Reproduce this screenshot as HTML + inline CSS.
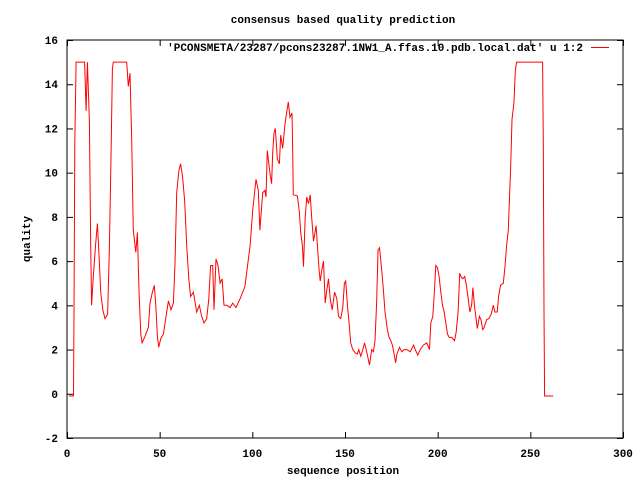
<!DOCTYPE html>
<html><head><meta charset="utf-8"><style>
body{margin:0;background:#fff}
svg text{font-family:"Liberation Mono",monospace;font-size:11px;font-weight:bold;fill:#000}
</style></head><body>
<svg id="chart" width="640" height="480" xmlns="http://www.w3.org/2000/svg">
<rect width="640" height="480" fill="#fff"/>
<text x="343" y="23" text-anchor="middle">consensus based quality prediction</text>
<text x="343" y="474" text-anchor="middle">sequence position</text>
<text x="30" y="239" text-anchor="middle" transform="rotate(-90 30 239)">quality</text>
<rect x="67" y="40" width="556" height="398" fill="none" stroke="#000" stroke-width="1"/>
<g id="axes"></g>
<polyline id="series" fill="none" stroke="#f00" stroke-width="1"/>
<text x="583" y="51" text-anchor="end">'PCONSMETA/23287/pcons23287.1NW1_A.ffas.10.pdb.local.dat' u 1:2</text>
<line x1="591" y1="47.5" x2="609" y2="47.5" stroke="#f00"/>
</svg>
<script>
const xTicks=[0,50,100,150,200,250,300];
const yTicks=[-2,0,2,4,6,8,10,12,14,16];
const positions=[1,3.5,3.8,4.2,4.9,9.5,10.3,11,12.1,12.8,13.3,14.2,15.5,16.4,17.3,18.2,19.3,20.5,21.9,22.8,23.7,24.5,25,32.2,33.1,34,34.9,35.8,37.1,38,38.9,39.8,40.5,42.1,43.9,44.8,46.1,47.1,47.9,48.8,49.5,50.6,52,53.4,54.7,56.1,57.4,58.3,59.2,60.4,61.3,62.4,63.5,64.6,65.7,66.7,68.2,70,71.4,72.7,73.9,75.4,76.5,77.5,78.6,79.3,80.4,81.5,82.6,83.7,84.7,86.2,88,89.4,91.2,93.4,96,98.8,100.2,102,103.2,104.1,105.6,106.8,107.4,108.1,109.5,110.4,111,111.7,112.4,113.5,114.6,115.3,116.4,117.6,118.5,119.4,120.3,121.4,121.8,122.1,124.3,125.4,126.1,127,127.6,128.5,129.4,130.3,131.2,132.1,133,134.4,135.1,136,136.6,137.5,138.4,139.3,140.2,141.1,142,143.1,144.4,145.6,146.5,147.7,148.8,149.7,150.4,151.3,152.2,153.1,154.2,155.5,156.7,157.4,158.5,159.6,160.5,161.7,163.2,164.4,165.3,166.2,167.1,167.8,168.6,169.1,169.8,170.7,171.6,172.9,173.8,174.7,175.6,176.5,177.3,178,179.4,180.7,181.9,183.4,185.2,187,187.9,189.3,190.6,192.3,194.1,195.6,196.3,197.4,198.1,199,199.9,200.8,201.7,202.6,203.5,204.4,205.3,206.2,207.6,209.1,210,211,211.9,212.6,213.5,214.6,215.6,216.5,217.4,218.3,219,219.8,220.6,221.4,222.5,223.4,224.3,225.1,226.4,227.6,228.9,230,230.9,232.1,232.9,233.9,235.4,236.3,237.2,238.1,238.6,239.4,240.1,241.2,241.9,242.6,256.6,257,257.4,257.7,262.4];
const quality=[-0.1,-0.1,3.7,11.3,15,15,12.8,15,12.3,6.7,4.0,5.3,6.8,7.7,6.2,4.6,3.8,3.4,3.6,6.4,10.4,14.7,15,15,13.9,14.5,11.5,7.4,6.4,7.3,4.5,2.7,2.3,2.6,3.0,4.1,4.6,4.9,4.0,2.6,2.1,2.5,2.7,3.5,4.2,3.8,4.1,5.9,9.1,10.1,10.4,9.8,8.7,6.7,5.2,4.4,4.6,3.7,4.0,3.5,3.2,3.4,4.3,5.8,5.8,3.8,6.1,5.8,5.0,5.2,4.0,4.0,3.9,4.1,3.9,4.3,4.85,6.7,8.3,9.7,9.2,7.4,9.1,9.2,8.9,11.0,10.0,9.5,10.9,11.8,12.0,10.6,10.4,11.7,11.1,12.2,12.7,13.2,12.5,12.7,11.0,9.0,8.95,8.2,7.3,6.7,5.75,8.0,8.9,8.6,9.0,7.9,6.9,7.6,6.7,5.6,5.1,5.6,6.0,4.1,4.7,5.2,4.3,3.8,4.6,4.3,3.5,3.4,3.9,5.0,5.1,4.0,3.2,2.3,2.0,1.85,1.8,2.0,1.7,2.0,2.3,1.9,1.3,2.0,1.9,2.4,4.2,6.5,6.6,6.2,5.6,4.7,3.7,2.9,2.55,2.4,2.2,1.8,1.4,1.8,2.1,1.9,2.0,2.0,1.9,2.2,2.0,1.75,2.0,2.2,2.3,2.0,3.2,3.5,4.4,5.8,5.7,5.3,4.6,4.0,3.7,3.2,2.7,2.55,2.55,2.4,2.8,3.7,5.45,5.3,5.2,5.3,4.85,4.3,3.7,4.0,4.8,4.0,3.5,2.95,3.5,3.35,2.9,3.0,3.35,3.4,3.6,4.0,3.7,3.7,4.4,4.9,5.0,5.7,6.7,7.4,8.5,10.3,12.4,13.2,14.6,15,15,11.3,3.7,-0.1,-0.1];
const L=67,R=623,T=40,B=438;
function sx(v){return L+(v-0)/(300-0)*(R-L);}
function sy(v){return B-(v-(-2))/(16-(-2))*(B-T);}
const NS="http://www.w3.org/2000/svg";
const axes=document.getElementById('axes');
function mk(tag,attrs){const e=document.createElementNS(NS,tag);for(const k in attrs)e.setAttribute(k,attrs[k]);return e;}
xTicks.forEach(t=>{
  const x=sx(t)+0.5;
  const a=mk('line',{x1:x,y1:B,x2:x,y2:B-6,stroke:'#000'});
  
  
  axes.appendChild(a);
  const b=mk('line',{x1:x,y1:T,x2:x,y2:T+6,stroke:'#000'});
  
  
  axes.appendChild(b);
  const tx=mk('text',{x:sx(t),y:B+19,'text-anchor':'middle'});
  
  
  tx.textContent=t;axes.appendChild(tx);
});
yTicks.forEach(t=>{
  const y=sy(t)+0.5;
  const a=mk('line',{x1:L,y1:y,x2:L+6,y2:y,stroke:'#000'});
  
  
  axes.appendChild(a);
  const b=mk('line',{x1:R,y1:y,x2:R-6,y2:y,stroke:'#000'});
  
  
  axes.appendChild(b);
  const tx=mk('text',{x:L-9,y:sy(t)+4,'text-anchor':'end'});
  
  
  tx.textContent=t;axes.appendChild(tx);
});
document.getElementById('series').setAttribute('points',positions.map((p,i)=>sx(p).toFixed(1)+','+sy(quality[i]).toFixed(1)).join(' '));
</script>
</body></html>
